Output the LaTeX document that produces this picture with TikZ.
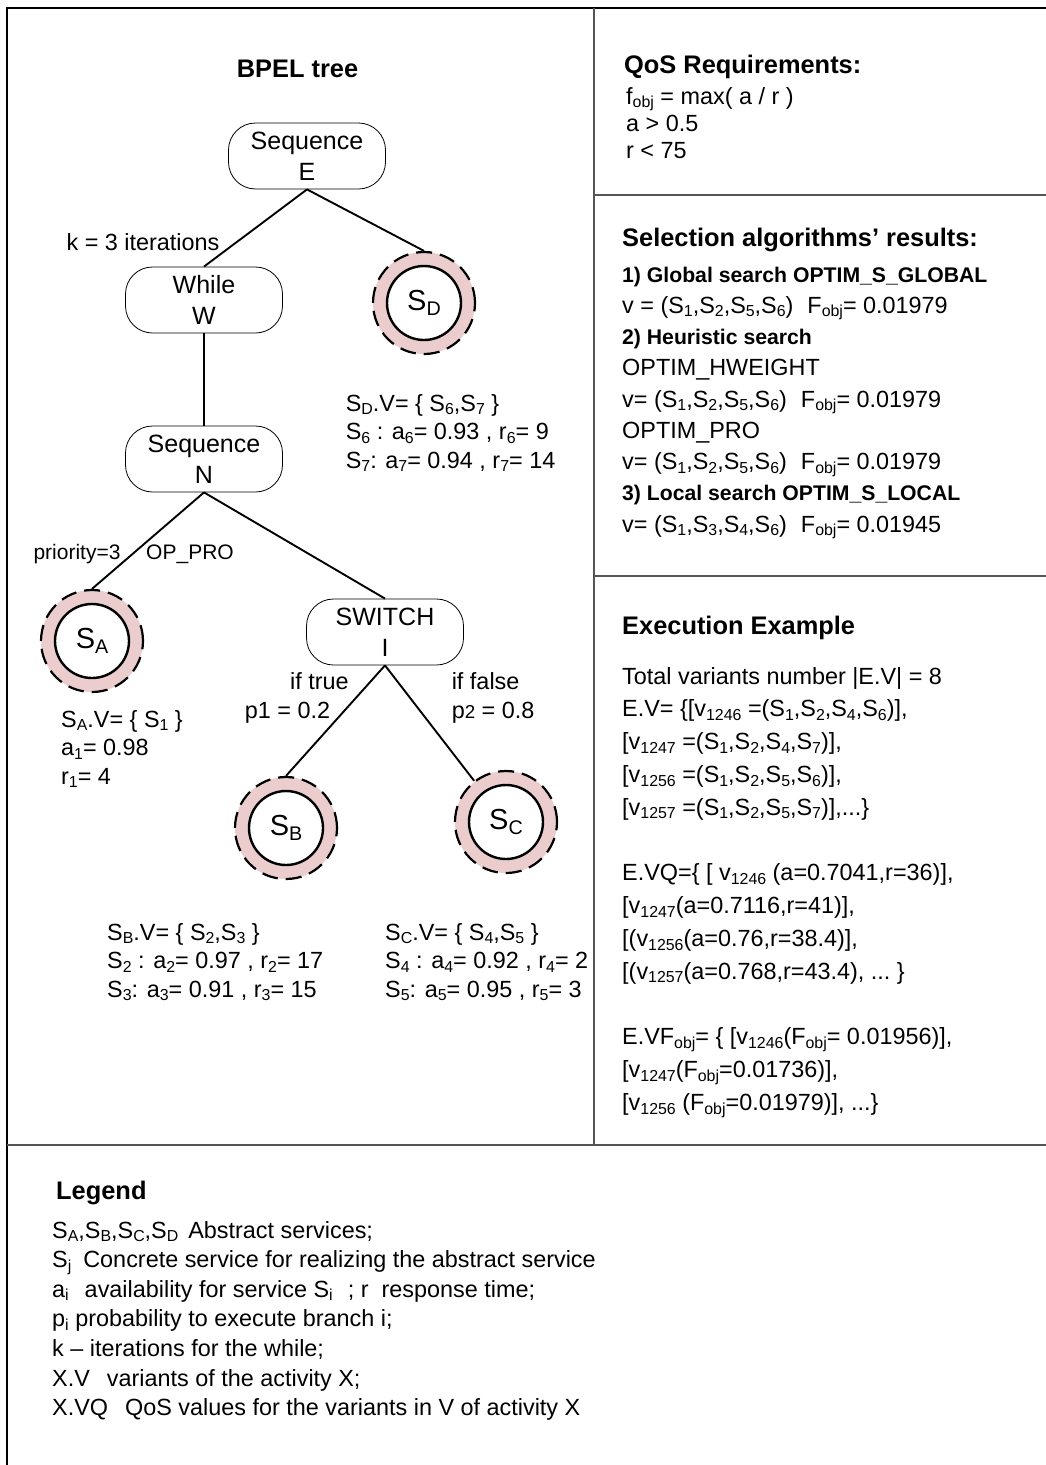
\documentclass[tikz,border=0pt]{standalone}
\usepackage{fontspec}
\setmainfont{Liberation Sans}
\usepackage{graphicx}
% lowered, reduced index (S_1, F_obj, v_1246 ...)
\newcommand{\ix}[1]{\raisebox{-0.3ex}{\scalebox{0.68}{#1}}}
\newcommand{\fs}[1]{\fontsize{#1}{#1}\selectfont}
% three full stops, kept out of the reach of \foreach
\newcommand{\threedots}{...}
\definecolor{ringpink}{RGB}{235,205,205}
\definecolor{rulegray}{RGB}{85,85,85}

\begin{document}
\begin{tikzpicture}[x=1pt,y=-1pt,
  activity/.style={draw=black, line width=0.8pt, rounded corners=27pt,
    minimum width=157pt, minimum height=66pt, inner sep=0pt, align=center,
    font=\fontsize{25}{31}\selectfont},
  ring/.style={circle, minimum size=102pt, inner sep=0pt, fill=ringpink,
    draw=black, line width=2.2pt, dash pattern=on 16pt off 8pt},
  core/.style={circle, minimum size=74pt, inner sep=0pt, fill=white,
    draw=black, line width=2.4pt, font=\fs{29}},
  link/.style={draw=black, line width=1.9pt},
  txt/.style={font=\fs{23.4}, inner sep=0pt, anchor=base west},
  small/.style={font=\fs{21}, inner sep=0pt, anchor=base},
  head/.style={font=\fs{25.4}\bfseries, inner sep=0pt, anchor=base west},
  frame/.style={draw=black, line width=1.4pt},
  divider/.style={draw=rulegray, line width=1.6pt}
]
\useasboundingbox (0,0) rectangle (1046,1465);

% ---- frame and panel dividers
\draw[frame] (7,1465) -- (7,8) -- (1046,8);
\draw[divider] (594,8) -- (594,1145);
\draw[divider] (594,195) -- (1046,195);
\draw[divider] (594,576) -- (1046,576);
\draw[divider] (7,1145) -- (1046,1145);

% ---- BPEL tree
\node[head, anchor=base] (title) at (297.5,77) {BPEL tree};

\node[activity] (e)  at (307,156) {Sequence\\E};
\node[activity] (w)  at (204,300) {While\\W};
\node[activity] (n)  at (204,459) {Sequence\\N};
\node[activity] (sw) at (385,632) {SWITCH\\I};

\node[ring] (sd) at (424,303) {};
\node[core] (sdi) at (sd.center) {S\ix{D}};
\node[ring] (sa) at (92,641) {};
\node[core] (sai) at (sa.center) {S\ix{A}};
\node[ring] (sb) at (286,828) {};
\node[core] (sbi) at (sb.center) {S\ix{B}};
\node[ring] (sc) at (506,822) {};
\node[core] (sci) at (sc.center) {S\ix{C}};

\draw[link] (e.south) -- (w.north);
\draw[link] (e.south) -- (sd.north);
\draw[link] (w.south) -- (n.north);
\draw[link] (n.south) -- (sa.north);
\draw[link] (n.south) -- (sw.north);
\draw[link] (sw.south) -- (sb.north);
\draw[link] (sw.south) -- (sc);

% ---- edge annotations
\node[txt, anchor=base] (kit) at (143,250) {k = 3 iterations};
\node[small] (prio) at (77,559) {priority=3};
\node[small] (oppro) at (190,559) {OP\_PRO};
\node[txt, anchor=base] (iftrue) at (319.5,689) {if true};
\node[txt, anchor=base] (ptrue) at (287.5,718) {p1 = 0.2};
\node[txt] (iffalse) at (451.6,689) {if false};
\node[txt] (pfalse) at (451.6,718) {p\scalebox{0.8}{2} = 0.8};

% ---- variants of the abstract services
\foreach \linetext [count=\i from 0] in {
  {S\ix{D}.V= \{ S\ix{6},S\ix{7} \}},
  {S\ix{6} : a\ix{6}= 0.93 , r\ix{6}= 9},
  {S\ix{7}: a\ix{7}= 0.94 , r\ix{7}= 14}}
  \node[txt] (sdv\i) at (345.6,{411+28.5*\i}) {\linetext};

\foreach \linetext [count=\i from 0] in {
  {S\ix{A}.V= \{ S\ix{1} \}},
  {a\ix{1}= 0.98},
  {r\ix{1}= 4}}
  \node[txt] (sav\i) at (61,{727+28.5*\i}) {\linetext};

\foreach \linetext [count=\i from 0] in {
  {S\ix{B}.V= \{ S\ix{2},S\ix{3} \}},
  {S\ix{2} : a\ix{2}= 0.97 , r\ix{2}= 17},
  {S\ix{3}: a\ix{3}= 0.91 , r\ix{3}= 15}}
  \node[txt] (sbv\i) at (107,{940+28.5*\i}) {\linetext};

\foreach \linetext [count=\i from 0] in {
  {S\ix{C}.V= \{ S\ix{4},S\ix{5} \}},
  {S\ix{4} : a\ix{4}= 0.92 , r\ix{4}= 2},
  {S\ix{5}: a\ix{5}= 0.95 , r\ix{5}= 3}}
  \node[txt] (scv\i) at (385,{940+28.5*\i}) {\linetext};

% ---- QoS requirements
\node[head] (qos) at (624,73) {QoS Requirements:};
\foreach \linetext [count=\i from 0] in {
  {f\ix{obj} = max( a / r )},
  {a > 0.5},
  {r < 75}}
  \node[txt] (qos\i) at (626,{104+27*\i}) {\linetext};

% ---- selection results
\node[head] (sel) at (622,246) {Selection algorithms’ results:};
\foreach \linetext [count=\i from 0] in {
  {\fs{21.2}\bfseries 1) Global search OPTIM\_S\_GLOBAL},
  {v = (S\ix{1},S\ix{2},S\ix{5},S\ix{6})\hspace{14pt}F\ix{obj}= 0.01979},
  {\fs{21.2}\bfseries 2) Heuristic search},
  {OPTIM\_HWEIGHT},
  {v= (S\ix{1},S\ix{2},S\ix{5},S\ix{6})\hspace{14pt}F\ix{obj}= 0.01979},
  {OPTIM\_PRO},
  {v= (S\ix{1},S\ix{2},S\ix{5},S\ix{6})\hspace{14pt}F\ix{obj}= 0.01979},
  {\fs{21.2}\bfseries 3) Local search OPTIM\_S\_LOCAL},
  {v= (S\ix{1},S\ix{3},S\ix{4},S\ix{6})\hspace{14pt}F\ix{obj}= 0.01945}}
  \node[txt] (sel\i) at (622,{282+31.25*\i}) {\linetext};

% ---- execution example
\node[head] (exe) at (622,634) {Execution Example};
\foreach \linetext [count=\i from 0] in {
  {Total variants number |E.V| = 8},
  {E.V= \{[v\ix{1246} =(S\ix{1},S\ix{2},S\ix{4},S\ix{6})],},
  {[v\ix{1247} =(S\ix{1},S\ix{2},S\ix{4},S\ix{7})],},
  {[v\ix{1256} =(S\ix{1},S\ix{2},S\ix{5},S\ix{6})],},
  {[v\ix{1257} =(S\ix{1},S\ix{2},S\ix{5},S\ix{7})],\threedots\}}}
  \node[txt] (ev\i) at (622,{684+32.8*\i}) {\linetext};
\foreach \linetext [count=\i from 0] in {
  {E.VQ=\{ [ v\ix{1246} (a=0.7041,r=36)],},
  {[v\ix{1247}(a=0.7116,r=41)],},
  {[(v\ix{1256}(a=0.76,r=38.4)],},
  {[(v\ix{1257}(a=0.768,r=43.4), \threedots\ \}}}
  \node[txt] (evq\i) at (622,{880.8+32.8*\i}) {\linetext};
\foreach \linetext [count=\i from 0] in {
  {E.VF\ix{obj}= \{ [v\ix{1246}(F\ix{obj}= 0.01956)],},
  {[v\ix{1247}(F\ix{obj}=0.01736)],},
  {[v\ix{1256} (F\ix{obj}=0.01979)], \threedots\}}}
  \node[txt] (evf\i) at (622,{1044.8+32.8*\i}) {\linetext};

% ---- legend
\node[head] (leg) at (56,1199) {Legend};
\foreach \linetext [count=\i from 0] in {
  {S\ix{A},S\ix{B},S\ix{C},S\ix{D}\hspace{10pt}Abstract services;},
  {S\ix{j}\hspace{12pt}Concrete service for realizing the abstract service},
  {a\ix{i}\hspace{16pt}availability for service S\ix{i}\hspace{15pt}; r\hspace{13pt}response time;},
  {p\ix{i} probability to execute branch i;},
  {k – iterations for the while;},
  {X.V\hspace{17pt}variants of the activity X;},
  {X.VQ\hspace{17pt}QoS values for the variants in V of activity X}}
  \node[txt] (leg\i) at (52,{1238+29.6*\i}) {\linetext};

\end{tikzpicture}
\end{document}
